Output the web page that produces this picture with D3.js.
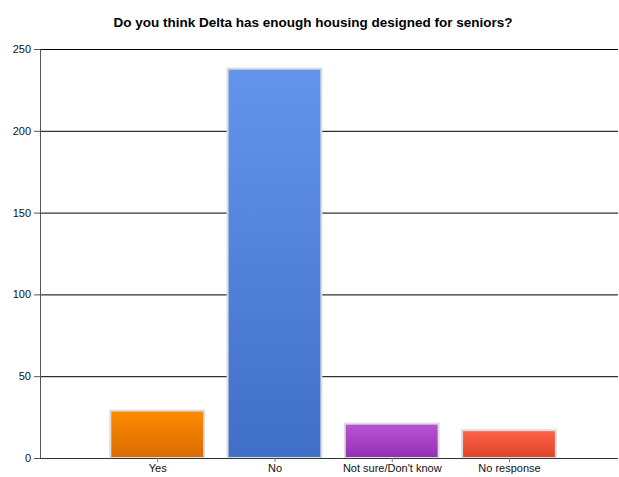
<!DOCTYPE html>
<html>
<head>
<meta charset="utf-8">
<script src="https://cdn.jsdelivr.net/npm/d3@7"></script>
<style>
  body { margin: 0; background: #fff; }
  text { font-family: "Liberation Sans", Arial, sans-serif; }
</style>
</head>
<body>
<svg id="chart" width="619" height="477"></svg>
<script>
const categories = ["Yes", "No", "Not sure/Don't know", "No response"];
const counts = [29, 238, 21, 17];
const yTicks = [0, 50, 100, 150, 200, 250];
const topColors = ["#ff8c00", "#6495ed", "#ba55d3", "#ff6347"];
const bottomColors = ["#d76b00", "#3f6fc6", "#932fb4", "#dc4429"];

const svg = d3.select("#chart");
const margin = {top: 49, right: 1, bottom: 19, left: 40};
const width = +svg.attr("width") - margin.left - margin.right,
      height = +svg.attr("height") - margin.top - margin.bottom;

svg.append("text")
  .attr("x", 313).attr("y", 27)
  .attr("text-anchor", "middle")
  .attr("font-size", 13.5).attr("font-weight", "bold")
  .text("Do you think Delta has enough housing designed for seniors?");

const g = svg.append("g").attr("transform", `translate(${margin.left},${margin.top})`);

const x = d3.scaleLinear().domain([0, 4.93]).range([0, width]);
const y = d3.scaleLinear().domain([0, 250]).range([height, 0]);
const barW = x(0.8) - x(0);

const defs = svg.append("defs");
categories.forEach((c, i) => {
  const grad = defs.append("linearGradient").attr("id", "grad" + i)
    .attr("x1", 0).attr("y1", 0).attr("x2", 0).attr("y2", 1);
  grad.append("stop").attr("offset", "0%").attr("stop-color", topColors[i]);
  grad.append("stop").attr("offset", "100%").attr("stop-color", bottomColors[i]);
});

// gridlines
g.append("g")
  .call(d3.axisLeft(y).tickValues(yTicks).tickSize(-width).tickFormat(""))
  .call(s => s.select(".domain").remove())
  .call(s => s.selectAll("line").attr("stroke", "#000"));

// y axis
const yAxis = g.append("g")
  .call(d3.axisLeft(y).tickValues(yTicks).tickSize(6).tickPadding(3));
yAxis.select(".domain").attr("stroke", "#555");
yAxis.selectAll("line").attr("stroke", "#555");
yAxis.selectAll("text").attr("font-size", 11).attr("fill", "#111")
  .style("font-family", "'Liberation Sans', Arial, sans-serif");

// bars
g.selectAll("rect.bar")
  .data(counts)
  .enter().append("rect")
  .attr("class", "bar")
  .attr("x", (d, i) => x(i + 1) - barW / 2)
  .attr("y", d => y(d))
  .attr("width", barW)
  .attr("height", d => height - y(d))
  .attr("fill", (d, i) => `url(#grad${i})`)
  .attr("stroke", "#dcdcdc")
  .attr("stroke-width", 2);

// x axis
const xAxis = g.append("g").attr("transform", `translate(0,${height})`)
  .call(d3.axisBottom(x).tickValues([1, 2, 3, 4]).tickSize(4).tickPadding(2)
    .tickFormat(i => categories[i - 1]));
xAxis.select(".domain").attr("stroke", "#333").attr("d", `M0,0.5H${width}`);
xAxis.selectAll("line").attr("stroke", "#777");
xAxis.selectAll("text").attr("font-size", 11).attr("fill", "#111")
  .style("font-family", "'Liberation Sans', Arial, sans-serif");
</script>
</body>
</html>
